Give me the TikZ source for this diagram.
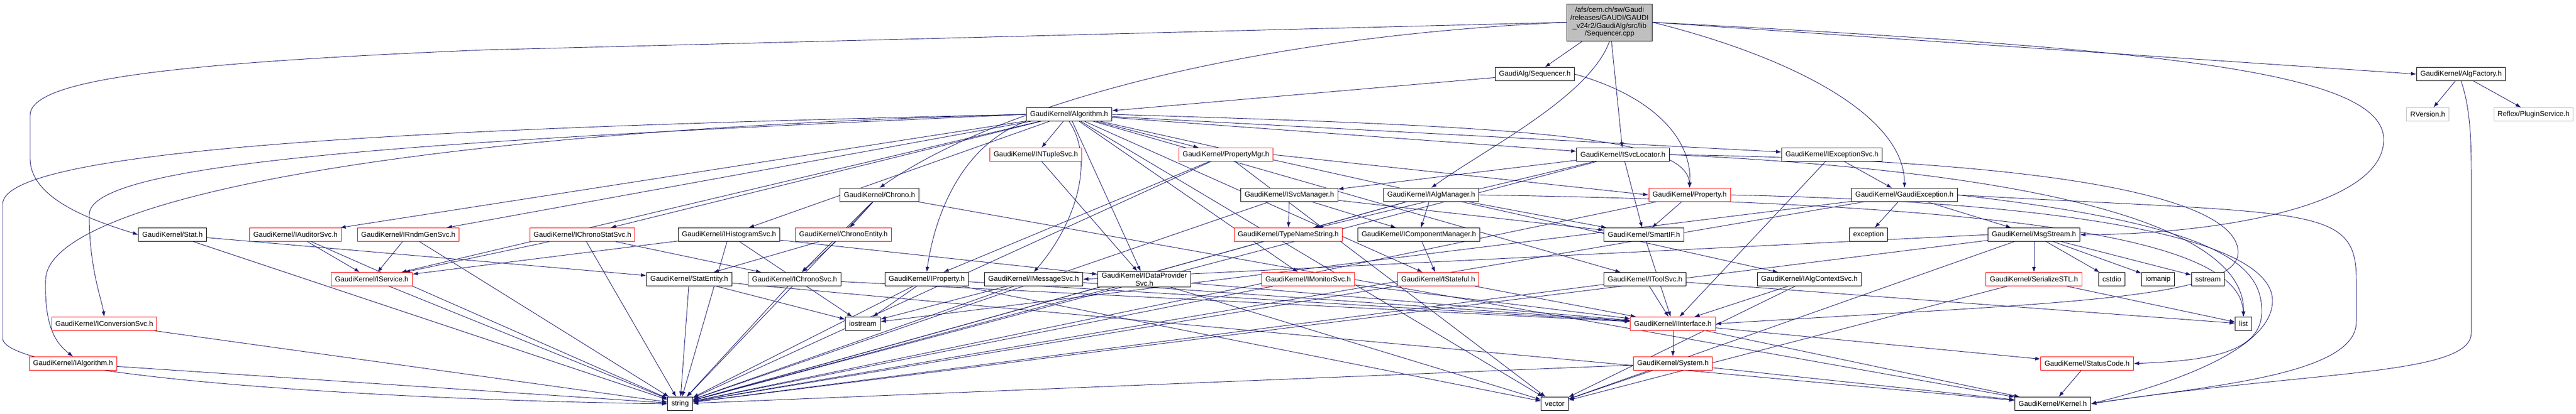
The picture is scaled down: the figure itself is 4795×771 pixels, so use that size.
\documentclass[tikz,border=0pt]{standalone}
\usepackage{fontspec}
\setmainfont{Liberation Sans}
\usetikzlibrary{arrows.meta}

\definecolor{depblue}{RGB}{25,25,112}
\definecolor{extgray}{RGB}{191,191,191}
\pgfdeclarelayer{edges}
\pgfsetlayers{edges,main}

\begin{document}
\begin{tikzpicture}[x=1pt,y=-1pt,
    file/.style={draw=black,fill=white,line width=1pt,inner xsep=7pt,inner ysep=2pt,
      minimum height=25pt,font=\fontsize{13.3}{15}\selectfont},
    trunc/.style={file,draw=red},
    ext/.style={file,draw=extgray},
    dep/.style={depblue,line width=0.9pt,-{Latex[length=10pt,width=7pt]}}]
  \useasboundingbox (0,0) rectangle (4795,771);

  % source file and its direct includes
  \node[file,fill=extgray,align=center,minimum height=69pt,font=\fontsize{13.3}{14.7}\selectfont] (root) at (2996,41.5)
    {/afs/cern.ch/sw/Gaudi\\/releases/GAUDI/GAUDI\\\_v24r2/GaudiAlg/src/lib\\/Sequencer.cpp};
  \node[file] (seqh) at (2857,138) {GaudiAlg/Sequencer.h};
  \node[file] (algfac) at (4581,138) {GaudiKernel/AlgFactory.h};

  \node[file] (algo) at (1990,213) {GaudiKernel/Algorithm.h};
  \node[ext] (rversion) at (4519,213) {RVersion.h};
  \node[ext] (plugin) at (4716,213) {Reflex/PluginService.h};

  \node[trunc] (ntuple) at (1928,288) {GaudiKernel/INTupleSvc.h};
  \node[trunc] (propmgr) at (2282,288) {GaudiKernel/PropertyMgr.h};
  \node[file] (svcloc) at (3021,288) {GaudiKernel/ISvcLocator.h};
  \node[file] (excsvc) at (3410,288) {GaudiKernel/IExceptionSvc.h};

  \node[file] (chrono) at (1637,363) {GaudiKernel/Chrono.h};
  \node[file] (svcmgr) at (2400,363) {GaudiKernel/ISvcManager.h};
  \node[file] (algmgr) at (2664,363) {GaudiKernel/IAlgManager.h};
  \node[trunc] (prop) at (3145,363) {GaudiKernel/Property.h};
  \node[file] (gexc) at (3545,363) {GaudiKernel/GaudiException.h};

  \node[file] (stat) at (321,437) {GaudiKernel/Stat.h};
  \node[trunc] (auditor) at (550,437) {GaudiKernel/IAuditorSvc.h};
  \node[trunc] (rndm) at (760,437) {GaudiKernel/IRndmGenSvc.h};
  \node[trunc] (chronostat) at (1084,437) {GaudiKernel/IChronoStatSvc.h};
  \node[file] (histo) at (1357,437) {GaudiKernel/IHistogramSvc.h};
  \node[trunc] (chronoent) at (1570,437) {GaudiKernel/ChronoEntity.h};
  \node[trunc] (typename) at (2398,437) {GaudiKernel/TypeNameString.h};
  \node[file] (compmgr) at (2641,437) {GaudiKernel/IComponentManager.h};
  \node[file] (smartif) at (3060,437) {GaudiKernel/SmartIF.h};
  \node[file] (exception) at (3478,437) {exception};
  \node[file] (msgstream) at (3786,437) {GaudiKernel/MsgStream.h};

  \node[trunc] (iservice) at (692,520) {GaudiKernel/IService.h};
  \node[file] (statent) at (1283,520) {GaudiKernel/StatEntity.h};
  \node[file] (chronosvc) at (1479,520) {GaudiKernel/IChronoSvc.h};
  \node[file] (iprop) at (1725,520) {GaudiKernel/IProperty.h};
  \node[file] (msgsvc) at (1924,520) {GaudiKernel/IMessageSvc.h};
  \node[file,align=center] (dataprov) at (2130,520) {GaudiKernel/IDataProvider\\Svc.h};
  \node[trunc] (monitor) at (2435,520) {GaudiKernel/IMonitorSvc.h};
  \node[trunc] (stateful) at (2677,520) {GaudiKernel/IStateful.h};
  \node[file] (toolsvc) at (3062,520) {GaudiKernel/IToolSvc.h};
  \node[file] (algctx) at (3368,520) {GaudiKernel/IAlgContextSvc.h};
  \node[trunc] (serial) at (3786,520) {GaudiKernel/SerializeSTL.h};
  \node[file] (cstdio) at (3931,520) {cstdio};
  \node[file] (iomanip) at (4017,520) {iomanip};
  \node[file] (sstream) at (4110,520) {sstream};

  \node[trunc] (convsvc) at (194,603) {GaudiKernel/IConversionSvc.h};
  \node[file] (iostream) at (1606,603) {iostream};
  \node[trunc] (iinterface) at (3114,603) {GaudiKernel/IInterface.h};
  \node[file] (list) at (4176,603) {list};

  \node[trunc] (ialg) at (136,677) {GaudiKernel/IAlgorithm.h};
  \node[trunc] (system) at (3114,677) {GaudiKernel/System.h};
  \node[trunc] (statuscode) at (3885,677) {GaudiKernel/StatusCode.h};

  \node[file] (string) at (1266,752) {string};
  \node[file] (vector) at (2894,752) {vector};
  \node[file] (kernel) at (3821,752) {GaudiKernel/Kernel.h};

  \begin{pgfonlayer}{edges}
  % Sequencer.cpp
  \draw[dep] (root) -- (seqh);
  \draw[dep] (root) -- (svcloc);
  \draw[dep] (root.south) .. controls (2960,180) and (2760,280) .. (algmgr.north);
  \draw[dep] (root.east) -- (algfac.west);
  \draw[dep] (root.west) -- (900,93) .. controls (300,118) and (56,150) .. (56,215) -- (56,295) .. controls (56,370) and (170,410) .. (stat.west);
  \draw[dep] (root.west) .. controls (2300,70) and (1850,200) .. (chrono.north);
  \draw[dep] (root.east) .. controls (3350,110) and (3545,220) .. (gexc.north);
  \draw[dep] (root.east) .. controls (4000,90) and (4437,130) .. (4437,260) .. controls (4437,390) and (4100,437) .. (msgstream.east);

  % Sequencer.h and AlgFactory.h
  \draw[dep] (seqh) -- (algo);
  \draw[dep] (seqh.east) .. controls (3080,180) and (3150,260) .. (prop.north);
  \draw[dep] (algfac) -- (rversion);
  \draw[dep] (algfac) -- (plugin);
  \draw[dep] (algfac.south) .. controls (4598,200) and (4600,260) .. (4600,320) -- (4600,620) .. controls (4600,700) and (4300,690) .. (kernel.east);

  % Algorithm.h
  \draw[dep] (algo) -- (ntuple);
  \draw[dep] (algo) -- (propmgr);
  \draw[dep] (algo) -- (svcloc);
  \draw[dep] (algo) -- (excsvc);
  \draw[dep] (algo.east) .. controls (2800,235) and (3140,250) .. (prop.north);
  \draw[dep] (algo.south west) .. controls (1790,270) and (1740,400) .. (iprop.north);
  \draw[dep] (algo.south) .. controls (2040,300) and (2000,420) .. (msgsvc.north);
  \draw[dep] (algo) -- (dataprov);
  \draw[dep] (algo) -- (monitor);
  \draw[dep] (algo) -- (stateful);
  \draw[dep] (algo) -- (toolsvc);
  \draw[dep] (algo) -- (algctx);
  \draw[dep] (algo) -- (iservice);
  \draw[dep] (algo) -- (auditor);
  \draw[dep] (algo) -- (rndm);
  \draw[dep] (algo) -- (chronostat);
  \draw[dep] (algo) -- (histo);
  \draw[dep] (algo) -- (vector);
  \draw[dep] (algo.west) .. controls (800,262) and (166,300) .. (166,400) .. controls (166,500) and (190,560) .. (convsvc.north);
  \draw[dep] (algo.west) .. controls (700,245) and (90,380) .. (85,520) .. controls (82,610) and (105,640) .. (ialg.north);
  \draw[dep] (algo.west) .. controls (900,236) and (5,270) .. (5,380) -- (5,630) .. controls (5,700) and (700,745) .. (string.west);

  % third row
  \draw[dep] (ntuple) -- (dataprov);
  \draw[dep] (propmgr.east) -- (prop.west);
  \draw[dep] (propmgr) -- (iprop);
  \draw[dep] (propmgr) -- (vector);
  \draw[dep] (propmgr) -- (string);
  \draw[dep] (svcloc) -- (svcmgr);
  \draw[dep] (svcloc) -- (typename);
  \draw[dep] (svcloc) -- (smartif);
  \draw[dep] (svcloc) -- (string);
  \draw[dep] (svcloc.east) .. controls (3800,320) and (4180,420) .. (list.north);
  \draw[dep] (svcloc.east) .. controls (3900,300) and (4166,380) .. (4166,470) .. controls (4166,560) and (3800,565) .. (iinterface.east);
  \draw[dep] (excsvc) -- (gexc);
  \draw[dep] (excsvc) -- (iinterface);

  % fourth row
  \draw[dep] (chrono) -- (chronoent);
  \draw[dep] (chrono) -- (chronosvc);
  \draw[dep] (chrono) -- (string);
  \draw[dep] (chrono) -- (kernel);
  \draw[dep] (svcmgr) -- (compmgr);
  \draw[dep] (svcmgr) -- (typename);
  \draw[dep] (svcmgr) -- (smartif);
  \draw[dep] (svcmgr) -- (string);
  \draw[dep] (algmgr) -- (typename);
  \draw[dep] (algmgr) -- (compmgr);
  \draw[dep] (algmgr) -- (smartif);
  \draw[dep] (algmgr) -- (string);
  \draw[dep] (algmgr.east) .. controls (3800,380) and (4170,450) .. (list.north);
  \draw[dep] (prop) -- (smartif);
  \draw[dep] (prop) -- (string);
  \draw[dep] (prop.east) .. controls (4000,380) and (4230,470) .. (4230,560) .. controls (4230,660) and (4000,725) .. (kernel.east);
  \draw[dep] (gexc) -- (exception);
  \draw[dep] (gexc) -- (msgstream);
  \draw[dep] (gexc) -- (string);
  \draw[dep] (gexc) -- (iostream);
  \draw[dep] (gexc.east) .. controls (4150,420) and (4210,500) .. (4210,580) .. controls (4210,660) and (4100,672) .. (statuscode.east);
  \draw[dep] (gexc.east) .. controls (4300,400) and (4386,380) .. (4386,520) -- (4386,600) .. controls (4386,700) and (4100,720) .. (kernel.east);

  % fifth row
  \draw[dep] (stat) -- (statent);
  \draw[dep] (stat) -- (string);
  \draw[dep] (auditor) -- (iservice);
  \draw[dep] (auditor) -- (string);
  \draw[dep] (rndm) -- (iservice);
  \draw[dep] (rndm) -- (string);
  \draw[dep] (chronostat) -- (iservice);
  \draw[dep] (chronostat) -- (chronosvc);
  \draw[dep] (chronostat) -- (string);
  \draw[dep] (histo) -- (iservice);
  \draw[dep] (histo) -- (dataprov);
  \draw[dep] (histo) -- (string);
  \draw[dep] (histo) -- (iostream);
  \draw[dep] (chronoent) -- (statent);
  \draw[dep] (chronoent) -- (chronosvc);
  \draw[dep] (typename) -- (string);
  \draw[dep] (compmgr) -- (stateful);
  \draw[dep] (smartif) -- (iinterface);
  \draw[dep] (msgstream.west) -- (msgsvc.east);
  \draw[dep] (msgstream) -- (serial);
  \draw[dep] (msgstream) -- (cstdio);
  \draw[dep] (msgstream) -- (iomanip);
  \draw[dep] (msgstream) -- (sstream);
  \draw[dep] (msgstream) -- (string);
  \draw[dep] (msgstream) -- (vector);

  % sixth row
  \draw[dep] (iservice) -- (string);
  \draw[dep] (statent) -- (string);
  \draw[dep] (statent) -- (iostream);
  \draw[dep] (statent) -- (kernel);
  \draw[dep] (chronosvc) -- (string);
  \draw[dep] (chronosvc) -- (iinterface);
  \draw[dep] (iprop) -- (iostream);
  \draw[dep] (iprop) -- (string);
  \draw[dep] (iprop) -- (iinterface);
  \draw[dep] (iprop) -- (vector);
  \draw[dep] (msgsvc) -- (iostream);
  \draw[dep] (msgsvc) -- (string);
  \draw[dep] (msgsvc) -- (iinterface);
  \draw[dep] (dataprov) -- (iinterface);
  \draw[dep] (dataprov) -- (string);
  \draw[dep] (dataprov) -- (vector);
  \draw[dep] (monitor) -- (string);
  \draw[dep] (monitor) -- (iinterface);
  \draw[dep] (stateful) -- (iinterface);
  \draw[dep] (stateful) -- (string);
  \draw[dep] (toolsvc) -- (iinterface);
  \draw[dep] (toolsvc) -- (string);
  \draw[dep] (toolsvc) -- (list);
  \draw[dep] (algctx) -- (iinterface);
  \draw[dep] (algctx) -- (vector);
  \draw[dep] (serial) -- (vector);
  \draw[dep] (serial) -- (list);

  % lower rows
  \draw[dep] (convsvc) -- (string);
  \draw[dep] (iinterface) -- (system);
  \draw[dep] (iinterface) -- (statuscode);
  \draw[dep] (iinterface) -- (kernel);
  \draw[dep] (ialg) -- (string);
  \draw[dep] (system) -- (vector);
  \draw[dep] (system) -- (string);
  \draw[dep] (system) -- (kernel);
  \draw[dep] (statuscode) -- (kernel);
  \end{pgfonlayer}
\end{tikzpicture}
\end{document}
